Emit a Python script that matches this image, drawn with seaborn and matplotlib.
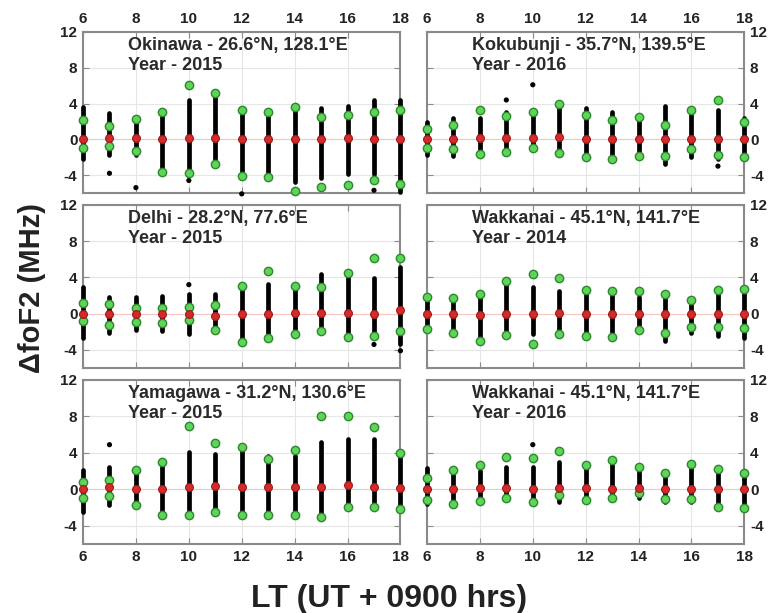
import matplotlib
matplotlib.use("Agg")
import matplotlib.pyplot as plt
import seaborn as sns

sns.set_style("white")
plt.rcParams["font.family"] = ["Liberation Sans", "DejaVu Sans"]
plt.rcParams["font.weight"] = "bold"
plt.rcParams["axes.unicode_minus"] = False

lt = [6, 7, 8, 9, 10, 11, 12, 13, 14, 15, 16, 17, 18]

# Okinawa 2015
oki_lo = [-2.2, -1.8, -1.8, -3.3, -3.7, -2.8, -4.1, -4.1, -4.8, -4.3, -3.9, -3.9, -5.9]
oki_hi = [3.6, 2.9, 2.5, 2.9, 4.4, 4.8, 3.3, 3.1, 3.5, 3.5, 3.7, 4.4, 4.4]
oki_up = [2.2, 1.5, 2.3, 3.1, 6.1, 5.2, 3.3, 3.0, 3.6, 2.5, 2.7, 3.1, 3.3]
oki_dn = [-1.0, -0.7, -1.3, -3.6, -3.8, -2.8, -4.1, -4.2, -5.8, -5.3, -5.1, -4.6, -5.0]
oki_mid = [0.0, 0.2, 0.1, 0.0, 0.1, 0.1, 0.0, 0.0, 0.0, 0.0, 0.1, 0.0, 0.0]
oki_out_lt = [7, 8, 10, 12, 17]
oki_out = [-3.8, -5.4, -4.6, -6.1, -5.7]

# Kokubunji 2016
kok_lo = [-1.8, -1.9, -1.7, -1.5, -1.1, -1.7, -1.9, -2.2, -2.0, -2.8, -2.0, -2.2, -2.2]
kok_hi = [1.9, 2.4, 2.4, 3.1, 3.0, 4.1, 3.5, 3.1, 2.6, 3.7, 3.3, 3.3, 2.4]
kok_up = [1.1, 1.6, 3.3, 2.6, 3.0, 3.9, 2.7, 2.2, 2.5, 1.6, 3.3, 4.4, 1.9]
kok_dn = [-1.0, -1.1, -1.6, -1.4, -1.0, -1.5, -2.0, -2.2, -1.9, -1.9, -1.1, -1.8, -2.0]
kok_mid = [0.0, 0.0, 0.2, 0.2, 0.2, 0.3, 0.0, 0.0, 0.0, 0.0, 0.0, 0.0, 0.0]
kok_out_lt = [9, 10, 17]
kok_out = [4.4, 6.1, -3.0]

# Delhi 2015
del_lo = [-2.7, -2.1, -1.8, -1.9, -2.2, -1.8, -3.1, -2.7, -2.1, -2.1, -2.7, -2.7, -3.4]
del_hi = [2.9, 1.8, 1.8, 1.9, 2.2, 2.2, 2.9, 3.3, 2.9, 4.4, 4.4, 3.9, 5.2]
del_up = [1.2, 1.1, 0.6, 0.6, 0.7, 1.0, 3.1, 4.7, 3.0, 2.9, 4.5, 6.1, 6.1]
del_dn = [-0.8, -1.2, -0.9, -1.0, -0.75, -1.8, -3.1, -2.7, -2.2, -1.9, -2.6, -2.5, -1.9]
del_mid = [0.0, 0.0, 0.0, 0.0, 0.0, -0.25, 0.0, 0.0, 0.1, 0.1, 0.1, 0.0, 0.4]
del_out_lt = [10, 17, 18]
del_out = [3.2, -3.4, -4.1]

# Wakkanai 2014
wk14_lo = [-1.8, -2.3, -3.0, -2.3, -2.3, -2.2, -2.7, -2.7, -1.9, -3.0, -2.1, -2.5, -2.7]
wk14_hi = [1.8, 1.8, 2.2, 3.5, 2.9, 2.5, 2.5, 2.5, 1.8, 2.2, 1.4, 2.5, 2.5]
wk14_up = [1.8, 1.7, 2.2, 3.6, 4.4, 3.9, 2.6, 2.5, 2.5, 2.2, 1.5, 2.6, 2.7]
wk14_dn = [-1.7, -2.1, -3.0, -2.4, -3.4, -2.2, -2.5, -2.6, -1.8, -2.1, -1.5, -1.5, -1.6]
wk14_mid = [0.0, 0.0, -0.2, 0.0, 0.0, 0.1, 0.0, 0.0, 0.0, 0.0, 0.0, 0.0, 0.0]
wk14_out_lt = []
wk14_out = []

# Yamagawa 2015
yam_lo = [-2.5, -1.7, -1.5, -2.5, -2.6, -2.4, -2.6, -2.8, -2.6, -2.6, -1.9, -2.0, -2.3]
yam_hi = [2.1, 2.5, 1.7, 2.8, 4.1, 3.9, 4.4, 3.7, 3.7, 5.2, 5.5, 5.5, 4.1]
yam_up = [0.8, 1.0, 2.1, 3.0, 7.0, 5.1, 4.6, 3.3, 4.3, 8.1, 8.1, 6.8, 4.0]
yam_dn = [-1.0, -0.7, -1.7, -2.8, -2.8, -2.5, -2.8, -2.8, -2.8, -3.0, -1.9, -1.9, -2.2]
yam_mid = [0.0, 0.2, 0.0, 0.0, 0.2, 0.4, 0.2, 0.3, 0.2, 0.3, 0.5, 0.3, 0.1]
yam_out_lt = [7]
yam_out = [4.9]

# Wakkanai 2016
wk16_lo = [-1.6, -1.7, -1.4, -1.0, -1.6, -1.4, -1.2, -1.0, -1.0, -1.4, -1.4, -1.9, -2.1]
wk16_hi = [2.3, 1.8, 2.0, 2.5, 2.5, 3.0, 2.3, 2.7, 2.1, 1.8, 2.5, 2.1, 2.0]
wk16_up = [1.2, 2.1, 2.7, 3.5, 3.4, 4.2, 2.7, 3.2, 2.4, 1.8, 2.8, 2.2, 1.8]
wk16_dn = [-1.2, -1.6, -1.3, -1.0, -1.4, -0.6, -1.2, -1.0, -0.4, -1.1, -1.1, -1.9, -2.0]
wk16_mid = [0.0, 0.0, 0.1, 0.1, 0.0, 0.1, 0.1, 0.0, 0.1, 0.0, 0.0, 0.0, 0.0]
wk16_out_lt = [10]
wk16_out = [4.9]

titles = [
    "Okinawa - 26.6°N, 128.1°E\nYear - 2015",
    "Kokubunji - 35.7°N, 139.5°E\nYear - 2016",
    "Delhi - 28.2°N, 77.6°E\nYear - 2015",
    "Wakkanai - 45.1°N, 141.7°E\nYear - 2014",
    "Yamagawa - 31.2°N, 130.6°E\nYear - 2015",
    "Wakkanai - 45.1°N, 141.7°E\nYear - 2016",
]

panels = [
    (oki_lo, oki_hi, oki_up, oki_dn, oki_mid, oki_out_lt, oki_out),
    (kok_lo, kok_hi, kok_up, kok_dn, kok_mid, kok_out_lt, kok_out),
    (del_lo, del_hi, del_up, del_dn, del_mid, del_out_lt, del_out),
    (wk14_lo, wk14_hi, wk14_up, wk14_dn, wk14_mid, wk14_out_lt, wk14_out),
    (yam_lo, yam_hi, yam_up, yam_dn, yam_mid, yam_out_lt, yam_out),
    (wk16_lo, wk16_hi, wk16_up, wk16_dn, wk16_mid, wk16_out_lt, wk16_out),
]

fig = plt.figure(figsize=(7.78, 6.13), dpi=100)

col_left = [0.1067, 0.5488]
col_w = 0.408
row_bot = [0.6852, 0.3997, 0.1126]
row_h = [0.2626, 0.266, 0.2675]

for i, (lo, hi, up, dn, mid, out_lt, out_v) in enumerate(panels):
    r, c = divmod(i, 2)
    ax = fig.add_axes([col_left[c], row_bot[r], col_w, row_h[r]])

    ax.grid(True, color="#e6e6e6", lw=0.8)
    ax.set_axisbelow(True)
    ax.axhline(0, color="#f7c4c4", lw=0.8, zorder=1)

    # dense black dots drawn as a solid streak from min to max
    streak = ax.vlines(lt, lo, hi, colors="black", lw=3.4, zorder=3, clip_on=False)
    streak.set_capstyle("round")
    if out_lt:
        sns.scatterplot(x=out_lt, y=out_v, ax=ax, color="black", s=14,
                        edgecolor="none", zorder=3.5, clip_on=False, legend=False)
    sns.scatterplot(x=lt + lt, y=up + dn, ax=ax, color="#5fd35a", s=36,
                    edgecolor="#2a8a2a", linewidth=1.0, zorder=4, clip_on=False,
                    legend=False)
    sns.scatterplot(x=lt, y=mid, ax=ax, color="#d42a2a", s=32,
                    edgecolor="#a01818", linewidth=0.8, zorder=5, clip_on=False,
                    legend=False)

    ax.set_xlim(6, 18)
    ax.set_ylim(-6, 12)
    ax.set_xticks(range(6, 19, 2))
    ax.set_yticks([-4, 0, 4, 8, 12])
    ax.set_xlabel("")
    ax.set_ylabel("")
    ax.tick_params(direction="in", length=4, color="#8a8a8a", labelsize=11,
                   labelcolor="#222222", top=True, bottom=True, left=True, right=True,
                   labeltop=(r == 0), labelbottom=(r == 2),
                   labelleft=(c == 0), labelright=(c == 1), pad=4)
    for sp in ax.spines.values():
        sp.set_color("#8a8a8a")
        sp.set_linewidth(1.5)

    ax.text(0.143, 0.97, titles[i], transform=ax.transAxes, ha="left", va="top",
            fontsize=13, fontweight="bold", color="#2a2a2a", linespacing=1.25)

fig.text(0.041, 0.53, "ΔfoF2 (MHz)", rotation=90, ha="center", va="center",
         fontsize=21, fontweight="bold", color="#222222")
fig.text(0.5, 0.0098, "LT (UT + 0900 hrs)", ha="center", va="baseline",
         fontsize=23, fontweight="bold", color="#222222")

fig.savefig("out.png", dpi=100)
